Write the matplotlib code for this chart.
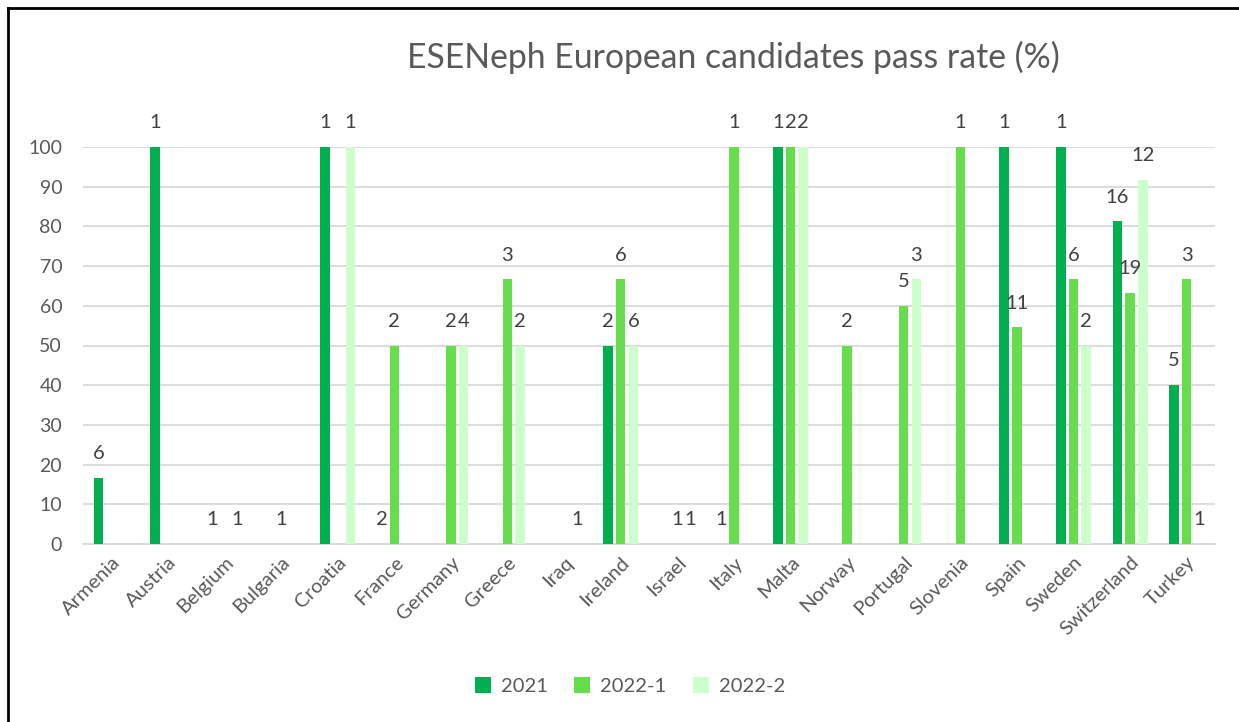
import numpy as np
import matplotlib
matplotlib.use("Agg")
import matplotlib.pyplot as plt
from matplotlib.lines import Line2D
from matplotlib.patches import Patch

plt.rcParams['font.family'] = ['Lato', 'DejaVu Sans']

countries = ["Armenia", "Austria", "Belgium", "Bulgaria", "Croatia", "France", "Germany",
             "Greece", "Iraq", "Ireland", "Israel", "Italy", "Malta", "Norway", "Portugal",
             "Slovenia", "Spain", "Sweden", "Switzerland", "Turkey"]
series_names = ["2021", "2022-1", "2022-2"]
nan = np.nan
# pass rate (%) per series; nan = no candidates
rate_2021 = [16.67, 100, 0, nan, 100, 0, nan, nan, nan, 50, nan, 0, 100, nan, nan, nan, 100, 100, 81.25, 40]
rate_2022_1 = [nan, nan, nan, 0, nan, 50, 50, 66.67, nan, 66.67, 0, 100, 100, 50, 60, 100, 54.55, 66.67, 63.16, 66.67]
rate_2022_2 = [nan, nan, 0, nan, 100, nan, 50, 50, 0, 50, 0, nan, 100, nan, 66.67, nan, nan, 50, 91.67, 0]
# number of candidates (data labels); None = no label
n_2021 = [6, 1, 1, None, 1, 2, None, None, None, 2, None, 1, 1, None, None, None, 1, 1, 16, 5]
n_2022_1 = [None, None, None, 1, None, 2, 2, 3, None, 6, 1, 1, 2, 2, 5, 1, 11, 6, 19, 3]
n_2022_2 = [None, None, 1, None, 1, None, 4, 2, 1, 6, 1, None, 2, None, 3, None, None, 2, 12, 1]

rates = [rate_2021, rate_2022_1, rate_2022_2]
counts = [n_2021, n_2022_1, n_2022_2]
colors = ["#00B050", "#66DD4D", "#CCFFCC"]
text_color = "#595959"

fig = plt.figure(figsize=(12.39, 7.22), dpi=100)
ax = fig.add_axes([83/1239, 1-544/722, (1215-83)/1239, (544-147)/722])

x = np.arange(len(countries))
bw = 0.168
step = 0.224
for i, (r, c, col) in enumerate(zip(rates, counts, colors)):
    pos = x + (i - 1) * step
    vals = np.array(r, dtype=float)
    ax.bar(pos, np.nan_to_num(vals), width=bw, color=col, zorder=3, label=series_names[i])
    for p, v, n in zip(pos, vals, c):
        if n is None:
            continue
        ax.annotate(str(n), (p, v), xytext=(0, 17.5), textcoords="offset points",
                    ha="center", va="center", fontsize=14.5, color="#404040",
                    annotation_clip=False, zorder=4)

ax.set_xlim(-0.5, len(countries) - 0.5)
ax.set_ylim(0, 100)
ax.set_yticks(np.arange(0, 101, 10))
ax.yaxis.grid(True, color="#D9D9D9", linewidth=1.3, zorder=0)
ax.set_axisbelow(True)
for s in ["top", "right", "left"]:
    ax.spines[s].set_visible(False)
ax.spines["bottom"].set_color("#D9D9D9")
ax.spines["bottom"].set_linewidth(1.3)
ax.tick_params(axis="both", length=0, labelsize=14, colors=text_color)
ax.tick_params(axis="y", pad=15)
ax.set_xticks(x)
ax.set_xticklabels(countries, rotation=45, ha="right", rotation_mode="anchor", fontsize=14.5)
ax.tick_params(axis="x", pad=7)

fig.text(733/1239, 1-57/722, "ESENeph European candidates pass rate (%)",
         ha="center", va="center", fontsize=24.3, color=text_color)

handles = [Patch(facecolor=c, edgecolor="none") for c in colors]
fig.legend(handles, series_names, loc="center", bbox_to_anchor=(630/1239, 1-686/722),
           ncol=3, frameon=False, fontsize=14.5, labelcolor=text_color,
           handlelength=0.8, handleheight=0.8, handletextpad=0.5, columnspacing=1.3)

# partial chart border (left and top edges)
fig.add_artist(Line2D([7.5/1239, 7.5/1239], [0, 1-7.5/722], color="black", linewidth=2,
                      transform=fig.transFigure))
fig.add_artist(Line2D([7.5/1239, 1], [1-7.5/722, 1-7.5/722], color="black", linewidth=2,
                      transform=fig.transFigure))

fig.savefig("out.png", dpi=100)
